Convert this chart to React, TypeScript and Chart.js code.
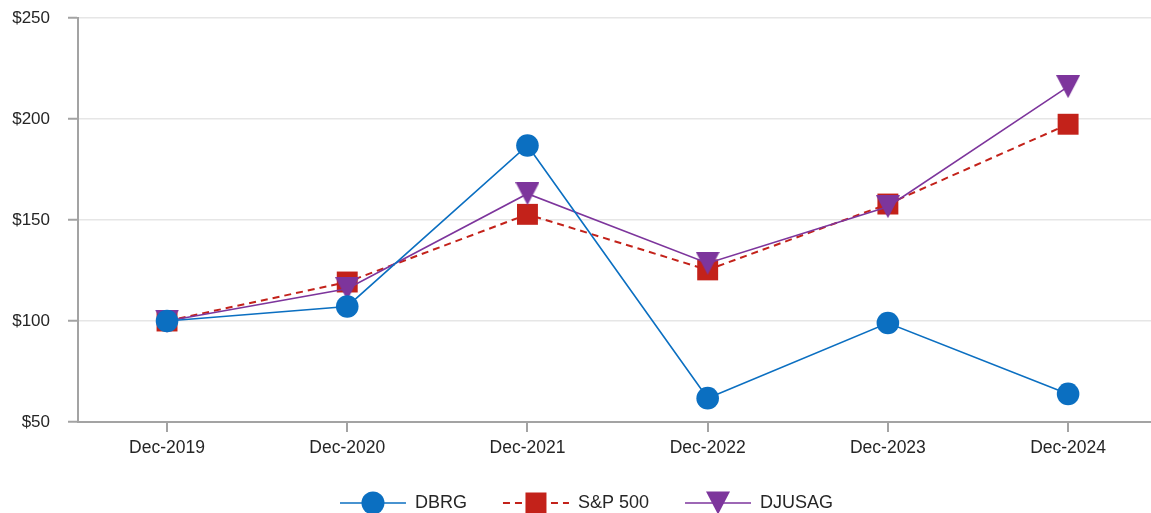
import React, { useEffect, useRef } from "react";
import { Chart, registerables } from "chart.js";

Chart.register(...registerables);

const categories = ["Dec-2019", "Dec-2020", "Dec-2021", "Dec-2022", "Dec-2023", "Dec-2024"];
const dbrgValues = [100, 107.2, 186.9, 61.8, 99, 63.9];
const spValues = [100, 119.3, 152.8, 125.3, 157.9, 197.4];
const djusagValues = [100, 116, 163, 128.6, 156.6, 216];
const yTickValues = [50, 100, 150, 200, 250];
const seriesNames = ["DBRG", "S&P 500", "DJUSAG"];

const BLUE = "#0b6fc1";
const RED = "#c3221a";
const PURPLE = "#7d359c";
const AXIS = "#a3a3a3";
const GRID = "#e6e6e6";
const TEXT = "#262626";
const FONT = "'Liberation Sans', Arial, sans-serif";

function makeTriangle(w: number, h: number, color: string) {
  const c = document.createElement("canvas");
  c.width = w;
  c.height = h;
  const ctx = c.getContext("2d")!;
  ctx.fillStyle = color;
  ctx.beginPath();
  ctx.moveTo(0, 0);
  ctx.lineTo(w, 0);
  ctx.lineTo(w / 2, h);
  ctx.closePath();
  ctx.fill();
  return c;
}

const legendPlugin = {
  id: "customLegend",
  afterDraw(chart: any) {
    const ctx = chart.ctx as CanvasRenderingContext2D;
    const lineLen = 66;
    const gap = 9;
    const spacing = 36;
    const y = 503;
    ctx.save();
    ctx.font = `18px ${FONT}`;
    const widths = seriesNames.map((n) => ctx.measureText(n).width);
    const total = widths.reduce((a, b) => a + b, 0) + seriesNames.length * (lineLen + gap) + spacing * (seriesNames.length - 1);
    let x = chart.width / 2 - total / 2 + 11;
    seriesNames.forEach((name, i) => {
      const color = [BLUE, RED, PURPLE][i];
      ctx.strokeStyle = color;
      ctx.fillStyle = color;
      ctx.lineWidth = i === 1 ? 2 : 1.6;
      ctx.setLineDash(i === 1 ? [7, 5] : []);
      ctx.beginPath();
      ctx.moveTo(x, y);
      ctx.lineTo(x + lineLen, y);
      ctx.stroke();
      ctx.setLineDash([]);
      const cx = x + lineLen / 2;
      if (i === 0) {
        ctx.beginPath();
        ctx.arc(cx, y, 11.5, 0, Math.PI * 2);
        ctx.fill();
      } else if (i === 1) {
        ctx.fillRect(cx - 10.5, y - 10.5, 21, 21);
      } else {
        ctx.beginPath();
        ctx.moveTo(cx - 12, y - 11.5);
        ctx.lineTo(cx + 12, y - 11.5);
        ctx.lineTo(cx, y + 11.5);
        ctx.closePath();
        ctx.fill();
      }
      ctx.fillStyle = TEXT;
      ctx.textBaseline = "middle";
      ctx.textAlign = "left";
      ctx.fillText(name, x + lineLen + gap, y);
      x += lineLen + gap + widths[i] + spacing;
    });
    ctx.restore();
  },
};

export default function App() {
  const ref = useRef<HTMLCanvasElement>(null);
  useEffect(() => {
    const tri = makeTriangle(24, 23, PURPLE);
    const toPts = (arr: number[]) => arr.map((v, i) => ({ x: i, y: v }));
    const chart = new Chart(ref.current!, {
      type: "line",
      data: {
        datasets: [
          {
            label: seriesNames[0],
            data: toPts(dbrgValues),
            borderColor: BLUE,
            backgroundColor: BLUE,
            borderWidth: 1.6,
            pointStyle: "circle",
            pointRadius: 11.3,
            pointBorderWidth: 0,
            order: 0,
          },
          {
            label: seriesNames[1],
            data: toPts(spValues),
            borderColor: RED,
            backgroundColor: RED,
            borderWidth: 2,
            borderDash: [7, 5],
            pointStyle: "rect",
            pointRadius: 14.8,
            pointBorderWidth: 0,
            order: 2,
          },
          {
            label: seriesNames[2],
            data: toPts(djusagValues),
            borderColor: PURPLE,
            backgroundColor: PURPLE,
            borderWidth: 1.6,
            pointStyle: tri as any,
            pointRadius: 12,
            pointBorderWidth: 0,
            order: 1,
          },
        ],
      },
      options: {
        animation: false,
        responsive: false,
        layout: { autoPadding: false, padding: { left: 0, right: 0, top: 18, bottom: 0 } },
        plugins: { legend: { display: false }, tooltip: { enabled: false } },
        scales: {
          x: {
            type: "linear",
            min: -0.494,
            max: 5.46,
            afterBuildTicks: (scale: any) => {
              scale.ticks = categories.map((_, i) => ({ value: i }));
            },
            afterFit: (scale: any) => {
              scale.height = 513 - 422;
              scale.paddingLeft = 0;
              scale.paddingRight = 0;
            },
            ticks: {
              callback: (v: any) => categories[v] ?? "",
              color: TEXT,
              font: { family: FONT, size: 17.5 },
              padding: 6,
              maxRotation: 0,
              autoSkip: false,
            },
            grid: { drawOnChartArea: false, drawTicks: true, tickLength: 10, tickColor: AXIS, lineWidth: 2 },
            border: { color: AXIS, width: 2 },
          },
          y: {
            min: 50,
            max: 250,
            afterBuildTicks: (scale: any) => {
              scale.ticks = yTickValues.map((v) => ({ value: v }));
            },
            afterFit: (scale: any) => {
              scale.width = 78;
              scale.paddingTop = 0;
              scale.paddingBottom = 0;
            },
            ticks: {
              callback: (v: any) => "$" + v,
              color: TEXT,
              font: { family: FONT, size: 17 },
              padding: 18,
            },
            grid: { color: GRID, lineWidth: 1.5, tickLength: 10, tickColor: AXIS, tickWidth: 2 },
            border: { color: AXIS, width: 2 },
          },
        },
      },
      plugins: [legendPlugin],
    });
    return () => chart.destroy();
  }, []);
  return (
    <div style={{ position: "fixed", left: 0, top: 0, width: 1151, height: 513, overflow: "hidden", background: "#fff" }}>
      <canvas ref={ref} width={1151} height={513} style={{ width: 1151, height: 513 }} />
    </div>
  );
}
